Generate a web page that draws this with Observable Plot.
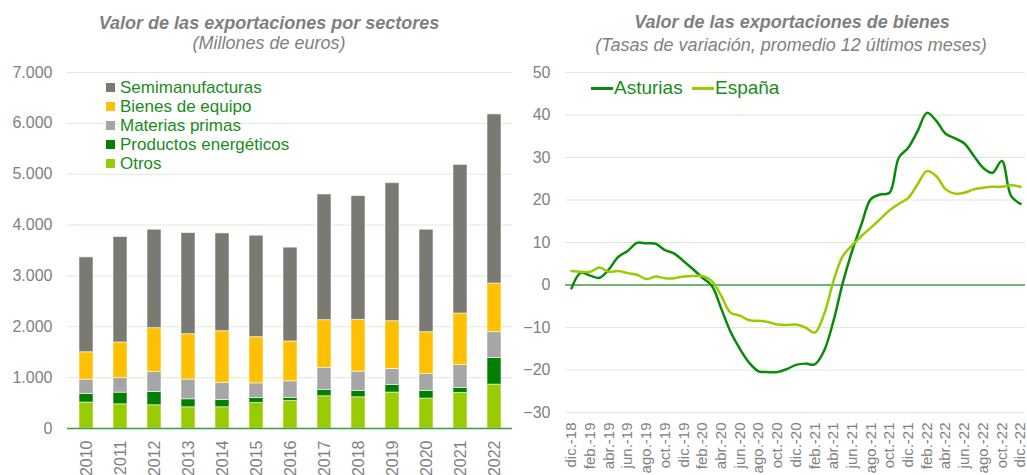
<!DOCTYPE html>
<html>
<head>
<meta charset="utf-8">
<script src="https://cdn.jsdelivr.net/npm/d3@7"></script>
<script src="https://cdn.jsdelivr.net/npm/@observablehq/plot@0.6"></script>
<style>
  html, body { margin: 0; padding: 0; background: #fff; }
  #root { position: relative; width: 1027px; height: 475px; overflow: hidden; font-family: "Liberation Sans", Arial, sans-serif; }
  .title { position: absolute; color: #7f7f7f; font-weight: bold; font-style: italic; font-size: 18px; white-space: nowrap; transform: translateX(-50%); line-height: 20px; }
  .subtitle { position: absolute; color: #7f7f7f; font-style: italic; font-size: 18px; white-space: nowrap; transform: translateX(-50%); line-height: 20px; }
  .chart { position: absolute; top: 60px; }
  .legL { position: absolute; left: 106px; top: 78px; }
  .legL .row { display: flex; align-items: center; height: 19px; line-height: 19px; font-size: 17px; color: #1a8c1a; white-space: nowrap; }
  .legL .sw { width: 9px; height: 9px; margin-right: 5px; }
  .legR { position: absolute; font-size: 19px; color: #1a8c1a; white-space: nowrap; line-height: 22px; }
</style>
</head>
<body>
<div id="root"></div>
<script>
// ---------- Data: left chart (millones de euros) ----------
const years = ["2010","2011","2012","2013","2014","2015","2016","2017","2018","2019","2020","2021","2022"];
const sectors = ["Otros","Productos energéticos","Materias primas","Bienes de equipo","Semimanufacturas"];
const sectorColors = ["#99cc00","#008000","#a6a6a6","#ffc000","#7a7a72"];
const otros        = [510, 476, 457, 418, 418, 503, 542, 634, 614, 706, 588, 699, 863];
const energeticos  = [170, 229, 261, 157, 143,  97,  59, 124, 125, 150, 151,  98, 523];
const materias     = [280, 287, 392, 386, 333, 288, 327, 432, 379, 314, 333, 451, 509];
const bienes       = [540, 700, 863, 894, 1020, 909, 784, 941, 1019, 941, 823, 1013, 955];
const semi         = [1865, 2073, 1935, 1988, 1922, 1993, 1844, 2470, 2432, 2713, 2013, 2922, 3326];
const leftTicks = [0, 1000, 2000, 3000, 4000, 5000, 6000, 7000];

// ---------- Data: right chart (tasas de variación, %) ----------
const monthLabels = ["dic.-18","feb.-19","abr.-19","jun.-19","ago.-19","oct.-19","dic.-19",
  "feb.-20","abr.-20","jun.-20","ago.-20","oct.-20","dic.-20",
  "feb.-21","abr.-21","jun.-21","ago.-21","oct.-21","dic.-21",
  "feb.-22","abr.-22","jun.-22","ago.-22","oct.-22","dic.-22"];
const asturias = [-0.8, 2.9, 2.2, 1.7, 3.7, 6.6, 8.0, 9.9, 9.8, 9.7, 8.2, 7.4, 5.6, 3.7, 1.7, -0.2,
  -5.5, -11.0, -15.0, -18.3, -20.3, -20.5, -20.5, -19.8, -18.8, -18.5, -18.7, -15.5, -8.5, 0.5,
  8.0, 14.3, 20.2, 21.3, 21.7, 30.0, 32.3, 36.2, 40.5, 38.6, 35.6, 34.5, 33.3, 30.4, 27.6, 26.4,
  29.2, 20.9, 19.1];
const espana = [3.3, 3.1, 3.1, 4.1, 3.1, 3.3, 2.8, 2.4, 1.4, 2.0, 1.6, 1.6, 2.0, 2.1, 2.1, 0.9,
  -2.5, -6.5, -7.2, -8.3, -8.4, -8.7, -9.3, -9.4, -9.3, -10.0, -11.2, -6.9, 0.9, 6.8,
  9.3, 11.5, 13.5, 15.5, 17.6, 19.1, 20.5, 23.7, 26.8, 25.6, 22.5, 21.5, 21.7, 22.5, 22.9, 23.1,
  23.1, 23.5, 23.1];
const seriesNames = ["Asturias", "España"];
const seriesColors = ["#0a8a0a", "#99cc00"];
const rightTicks = [-30, -20, -10, 0, 10, 20, 30, 40, 50];

// ---------- Build ----------
const root = document.getElementById("root");
const esFormat = d3.formatLocale({decimal: ",", thousands: ".", grouping: [3], currency: ["", "€"]}).format(",");

function addDiv(cls, text, left, top) {
  const d = document.createElement("div");
  d.className = cls; d.textContent = text;
  d.style.left = left + "px"; d.style.top = top + "px";
  root.appendChild(d);
  return d;
}
addDiv("title", "Valor de las exportaciones por sectores", 269, 13);
addDiv("subtitle", "(Millones de euros)", 269, 33);
addDiv("title", "Valor de las exportaciones de bienes", 792, 12);
addDiv("subtitle", "(Tasas de variación, promedio 12 últimos meses)", 791, 35);

const barData = [];
years.forEach((y, i) => {
  const vals = [otros[i], energeticos[i], materias[i], bienes[i], semi[i]];
  sectors.forEach((s, j) => barData.push({year: y, sector: s, value: vals[j]}));
});

const left = Plot.plot({
  width: 520, height: 415,
  marginTop: 12, marginBottom: 47, marginLeft: 67, marginRight: 8,
  style: {fontFamily: "Liberation Sans, Arial, sans-serif", fontSize: "16px", color: "#808080", background: "transparent"},
  x: {domain: years, paddingInner: 0.6, paddingOuter: 0.3, label: null},
  y: {domain: [0, 7000], label: null},
  color: {domain: sectors, range: sectorColors},
  marks: [
    Plot.gridY(leftTicks, {stroke: "#dcebd6", strokeOpacity: 1, strokeWidth: 1}),
    Plot.barY(barData, {x: "year", y: "value", fill: "sector", stroke: "#ffffff", strokeOpacity: 0.55, strokeWidth: 1}),
    Plot.ruleY([0], {stroke: "#3c9c3c", strokeWidth: 1.5}),
    Plot.axisY(leftTicks, {tickSize: 0, tickPadding: 15, tickFormat: esFormat, fontSize: 16, fill: "#808080", label: null}),
    Plot.axisX({tickSize: 0, tickPadding: 12, tickRotate: -90, fontSize: 16, fill: "#808080", label: null})
  ]
});
left.classList.add("chart");
left.style.left = "0px";
root.appendChild(left);

const lineData = [];
asturias.forEach((v, i) => lineData.push({i, value: v, series: "Asturias"}));
espana.forEach((v, i) => lineData.push({i, value: v, series: "España"}));
const tickIdx = monthLabels.map((_, k) => 2 * k);

const right = Plot.plot({
  width: 507, height: 415,
  marginTop: 12, marginBottom: 63, marginLeft: 45, marginRight: 2,
  style: {fontFamily: "Liberation Sans, Arial, sans-serif", fontSize: "16px", color: "#808080", background: "transparent"},
  x: {type: "linear", domain: [0, 48], range: [51, 500], label: null},
  y: {domain: [-30, 50], label: null},
  color: {domain: seriesNames, range: seriesColors},
  marks: [
    Plot.gridY(rightTicks.filter(d => d !== 0), {stroke: "#dcebd6", strokeOpacity: 1, strokeWidth: 1}),
    Plot.ruleY([0], {stroke: "#74b474", strokeWidth: 2}),
    Plot.line(lineData, {x: "i", y: "value", z: "series", stroke: "series", strokeWidth: 2.5, curve: "catmull-rom"}),
    Plot.axisY(rightTicks, {tickSize: 0, tickPadding: 15, fontSize: 16, fill: "#808080", label: null}),
    Plot.axisX(tickIdx, {tickSize: 0, tickPadding: 10, tickRotate: -90, fontSize: 15, fill: "#808080", label: null,
      tickFormat: d => monthLabels[d / 2]})
  ]
});
right.classList.add("chart");
right.style.left = "520px";
root.appendChild(right);

// ---------- Legends ----------
const legL = document.createElement("div");
legL.className = "legL";
[...sectors].reverse().forEach(s => {
  const row = document.createElement("div");
  row.className = "row";
  const sw = document.createElement("span");
  sw.className = "sw";
  sw.style.background = sectorColors[sectors.indexOf(s)];
  const t = document.createElement("span");
  t.textContent = s;
  row.appendChild(sw); row.appendChild(t);
  legL.appendChild(row);
});
root.appendChild(legL);

const legPos = [{line: 591, text: 614}, {line: 692, text: 715}];
seriesNames.forEach((s, k) => {
  const ln = document.createElement("div");
  ln.className = "legR";
  ln.style.left = legPos[k].line + "px"; ln.style.top = "87px";
  ln.style.width = "22px"; ln.style.height = "2.5px"; ln.style.background = seriesColors[k];
  root.appendChild(ln);
  addDiv("legR", s, legPos[k].text, 77);
});
</script>
</body>
</html>
